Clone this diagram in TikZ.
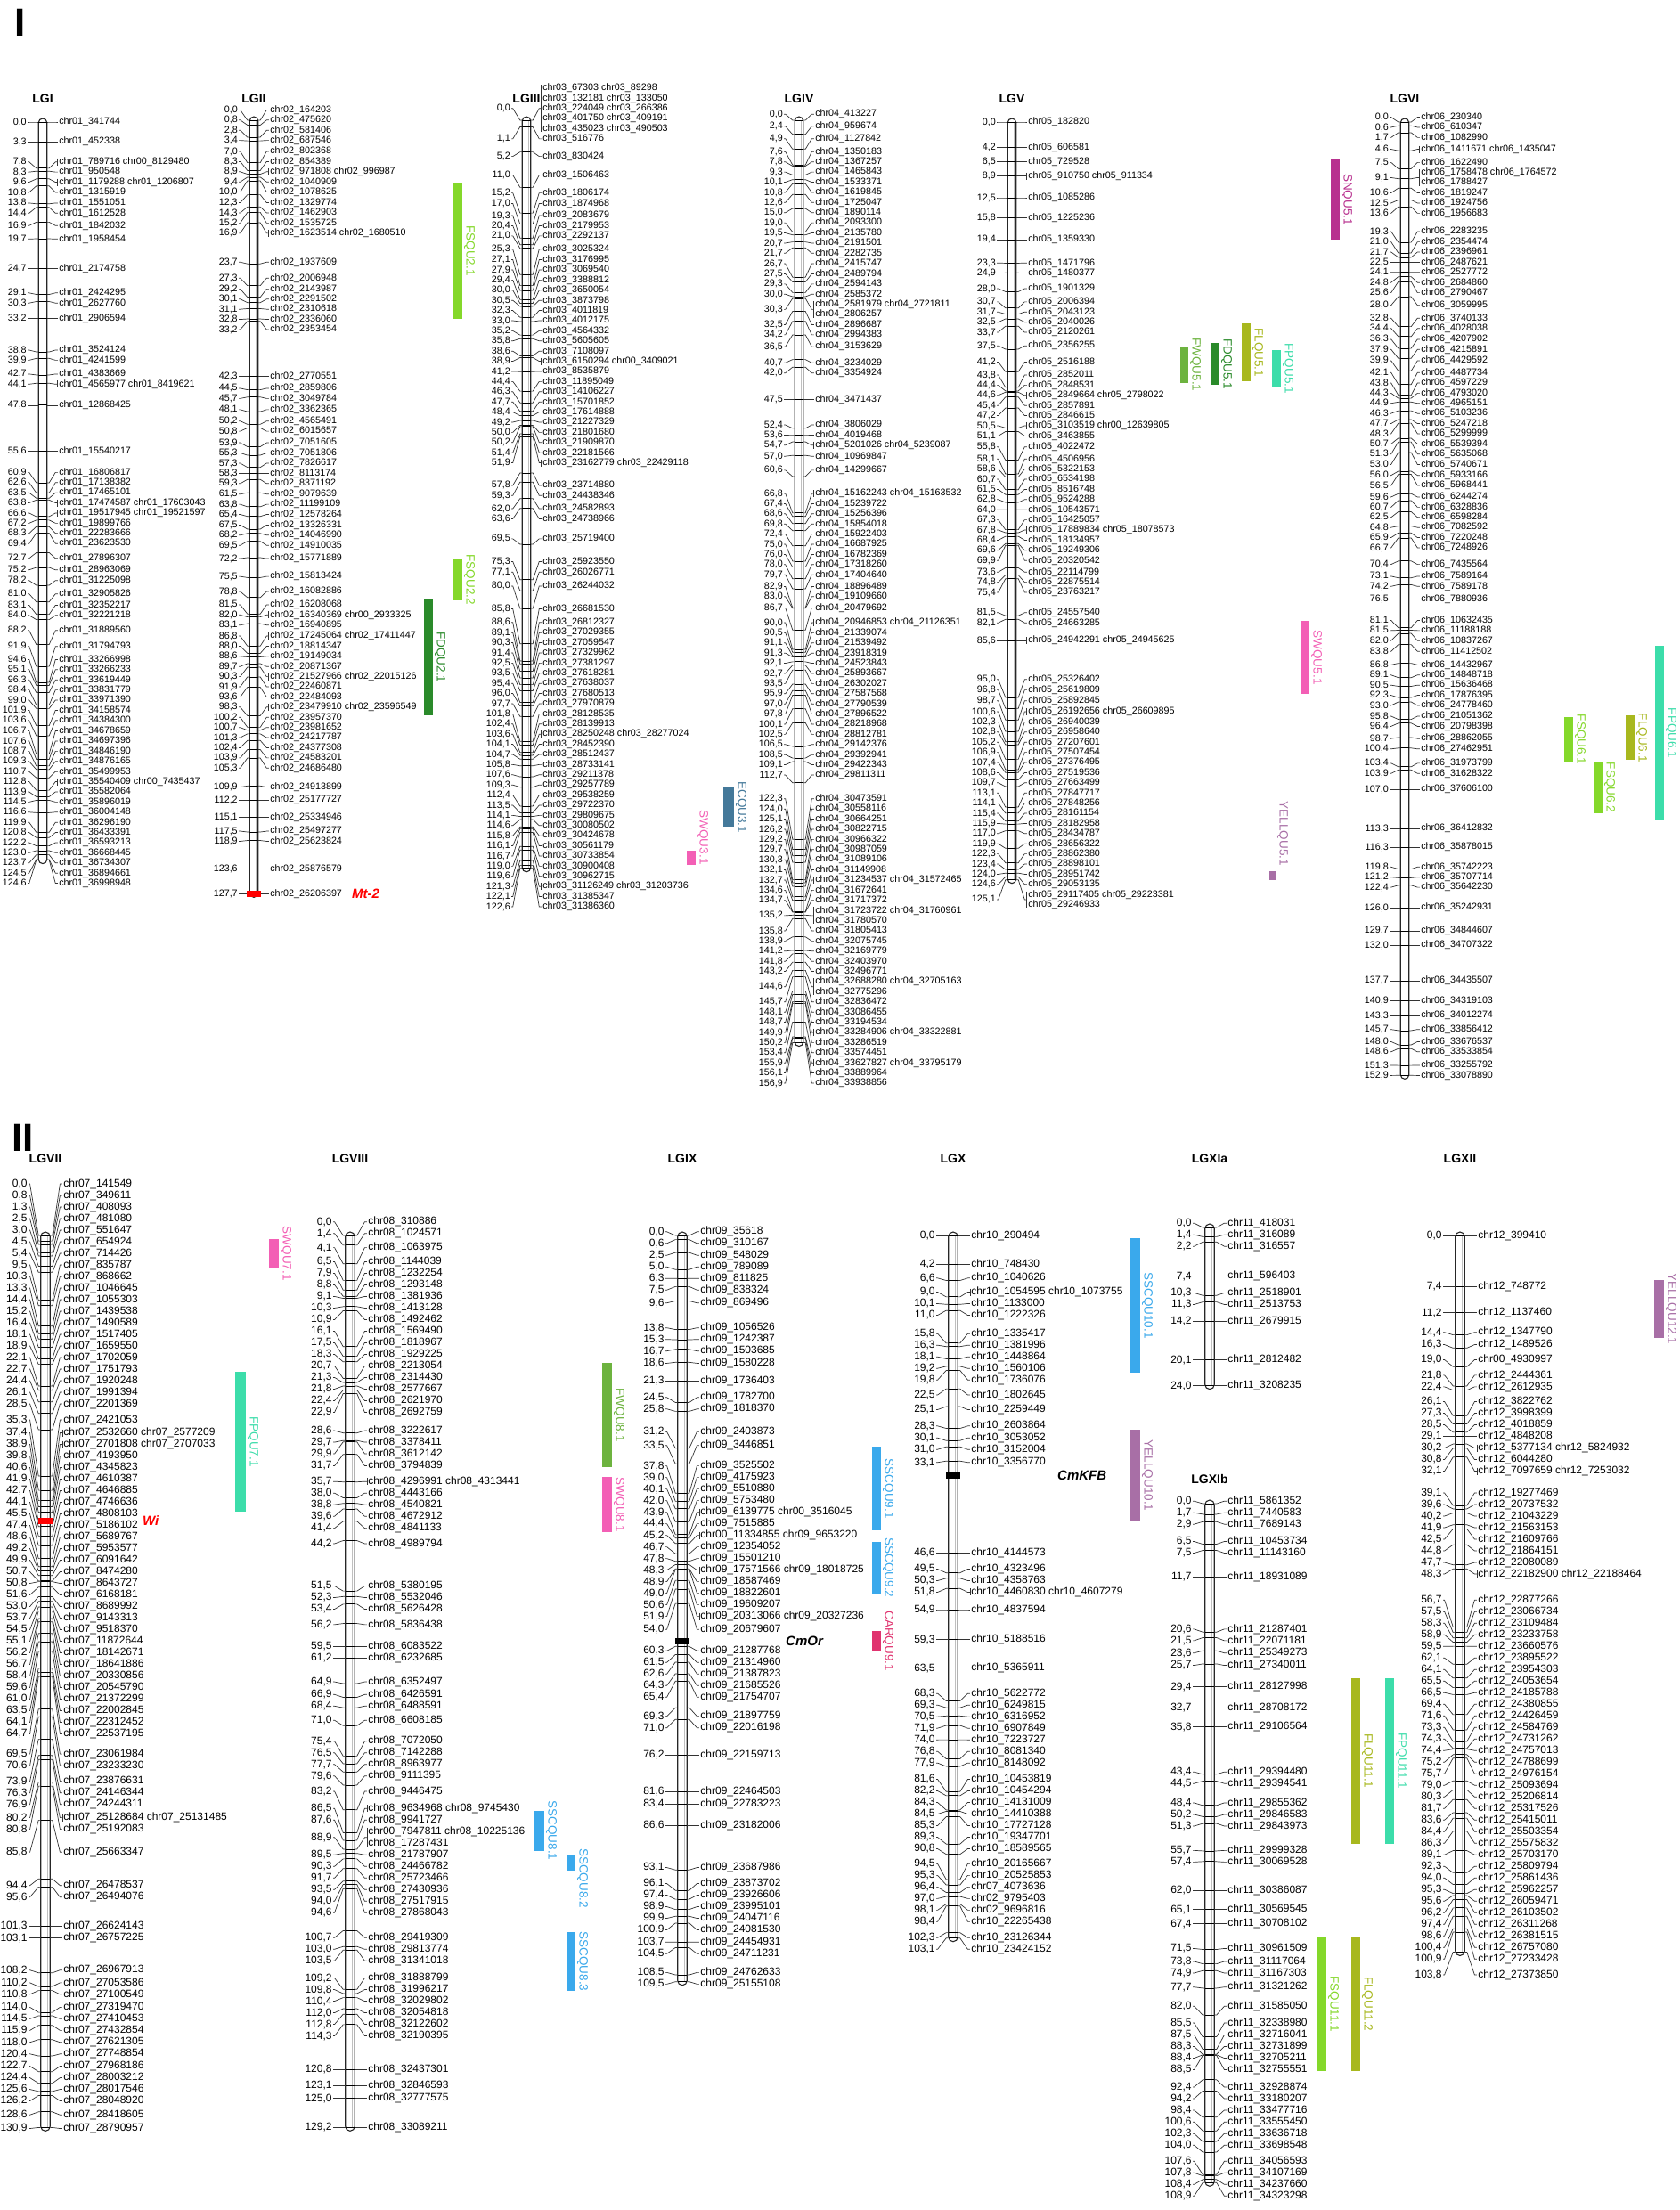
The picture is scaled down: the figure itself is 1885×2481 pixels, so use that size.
\documentclass[tikz,border=0pt]{standalone}
\usepackage{fontspec}
\setmainfont{Liberation Sans}
\definecolor{cFS}{HTML}{84D82A}
\definecolor{cFD}{HTML}{2A8A2A}
\definecolor{cFW}{HTML}{6DB33F}
\definecolor{cFL}{HTML}{A8B81E}
\definecolor{cFP}{HTML}{3CDDAA}
\definecolor{cSN}{HTML}{B8318F}
\definecolor{cSW}{HTML}{F35FB5}
\definecolor{cEC}{HTML}{44799A}
\definecolor{cYE}{HTML}{A86FA6}
\definecolor{cSS}{HTML}{3AA9EC}
\definecolor{cCA}{HTML}{E0336F}
\tikzset{
  lgbar/.style={draw=black!85, line width=1.1pt, fill=white},
  lgtick/.style={draw=black, line width=0.8pt},
  lgconn/.style={draw=black!80, line width=0.7pt},
  lgtxt/.style={inner sep=0pt, outer sep=0pt, text=black},
  qtllab/.style={rotate=-90, inner sep=0pt, font=\fontsize{13.5}{13.5}\selectfont},
  lgtitle/.style={font=\bfseries\fontsize{14}{14}\selectfont, inner sep=0pt},
  panellab/.style={font=\bfseries\fontsize{44}{44}\selectfont, inner sep=0pt, anchor=north west},
  genelab/.style={anchor=west, inner sep=0pt, font=\bfseries\itshape\fontsize{15}{15}\selectfont}
}
\def\splitnum#1.#2\relax{#1,#2}
\newcommand\drawLG[6]{%
  \def\lgxc{#1}\def\lgtop{#2}\def\lgsc{#3}\def\lggap{#4}\def\lgfs{#5}%
  \pgfmathsetmacro\lgoff{1.7*\lgfs}\pgfmathsetmacro\lghw{0.44*\lgfs}%
  \xdef\lgN{0}%
  \foreach \xcm/\xk/\xlbl in #6 {%
    \pgfmathtruncatemacro\ii{\lgN+1}%
    \xdef\lgN{\ii}%
    \expandafter\xdef\csname lgc@\ii\endcsname{\xcm}%
    \expandafter\xdef\csname lgk@\ii\endcsname{\xk}%
    \expandafter\global\expandafter\let\csname lgt@\ii\endcsname\xlbl
  }%
  \foreach \i in {1,...,\lgN} {%
    \edef\cc{\csname lgc@\i\endcsname}\edef\kk{\csname lgk@\i\endcsname}%
    \pgfmathsetmacro\dd{\lgtop+\cc*\lgsc}%
    \pgfmathsetmacro\hh{max(\kk,1)}%
    \ifnum\i=1 \xdef\FF{\dd}\else
      \pgfmathsetmacro\FFt{max(\dd,\Fprev+(\hprev+\hh)/2*\lggap)}\xdef\FF{\FFt}\fi
    \expandafter\xdef\csname lgF@\i\endcsname{\FF}%
    \xdef\Fprev{\FF}\xdef\hprev{\hh}%
  }%
  \foreach \j in {1,...,\lgN} {%
    \pgfmathtruncatemacro\i{\lgN+1-\j}%
    \edef\cc{\csname lgc@\i\endcsname}\edef\kk{\csname lgk@\i\endcsname}%
    \pgfmathsetmacro\dd{\lgtop+\cc*\lgsc}%
    \pgfmathsetmacro\hh{max(\kk,1)}%
    \ifnum\j=1 \xdef\BB{\dd}\else
      \pgfmathsetmacro\BBt{min(\dd,\Bprev-(\hprev+\hh)/2*\lggap)}\xdef\BB{\BBt}\fi
    \expandafter\xdef\csname lgB@\i\endcsname{\BB}%
    \xdef\Bprev{\BB}\xdef\hprev{\hh}%
  }%
  \edef\cc{\csname lgc@\lgN\endcsname}%
  \pgfmathsetmacro\lgbot{\lgtop+\cc*\lgsc}%
  \pgfmathsetmacro\bl{\lgxc-\lghw}\pgfmathsetmacro\br{\lgxc+\lghw}%
  \draw[lgbar, rounded corners=\lghw pt] (\bl,\lgtop-4) rectangle (\br,\lgbot+4);
  \draw[gray!50, line width=0.6pt] (\lgxc+0.5*\lghw,\lgtop) -- (\lgxc+0.5*\lghw,\lgbot);
  \foreach \i in {1,...,\lgN} {%
    \edef\cc{\csname lgc@\i\endcsname}\edef\kk{\csname lgk@\i\endcsname}%
    \pgfmathsetmacro\dd{\lgtop+\cc*\lgsc}%
    \pgfmathsetmacro\yy{(\csname lgF@\i\endcsname+\csname lgB@\i\endcsname)/2}%
    \draw[lgtick] (\bl,\dd) -- (\br,\dd);
    \draw[lgconn] (\br,\dd) -- (\br+2.5,\dd) -- (\lgxc+\lgoff-4,\yy) -- (\lgxc+\lgoff-1.5,\yy);
    \draw[lgconn] (\bl,\dd) -- (\bl-2.5,\dd) -- (\lgxc-\lgoff+3,\yy) -- (\lgxc-\lgoff+1.5,\yy);
    \node[lgtxt, anchor=east, font=\fontsize{\lgfs}{\lggap}\selectfont] at (\lgxc-\lgoff,\yy) {\expandafter\splitnum\cc\relax};
    \node[lgtxt, anchor=west, align=left, font=\fontsize{\lgfs}{\lggap}\selectfont] at (\lgxc+\lgoff,\yy) {\csname lgt@\i\endcsname};
    \ifnum\kk=1 \draw[lgconn] (\lgxc+\lgoff-1.5,\yy-4) -- (\lgxc+\lgoff-1.5,\yy+4);\fi
    \ifnum\kk>1 \pgfmathsetmacro\hb{\kk*\lggap/2-2}\draw[lgconn] (\lgxc+\lgoff-1.5,\yy-\hb) -- (\lgxc+\lgoff-1.5,\yy+\hb);\fi
  }%
}
\newcommand\qtl[9]{%
  \pgfmathsetmacro\qya{#1+#3*#2}\pgfmathsetmacro\qyb{#1+#4*#2}%
  \fill[#7] (#5,\qya) rectangle (#6,\qyb);
  \pgfmathsetmacro\qx{#6+8}%
  \if#9c\pgfmathsetmacro\qym{(\qya+\qyb)/2}\node[qtllab,text=#7] at (\qx,\qym) {#8};\fi
  \if#9t\node[qtllab,text=#7,anchor=west] at (\qx,\qya-8) {#8};\fi
  \if#9b\node[qtllab,text=#7,anchor=east] at (\qx,\qyb) {#8};\fi
  \if#9a\node[qtllab,text=#7,anchor=east] at (\qx,\qya-6) {#8};\fi
}
\newcommand\gmark[7]{%
  \pgfmathsetmacro\gy{#2+#4*#3}%
  \fill[#5] (#1-8,\gy-3.5) rectangle (#1+8,\gy+3.5);
  \node[genelab, text=#5] at (#7,\gy) {#6};
}
\begin{document}
\catcode`\_=12
\def\dataI{0.0/0/chr01_341744, 3.3/0/chr01_452338, 7.8/1/chr01_789716 chr00_8129480, 8.3/0/chr01_950548, 9.6/1/chr01_1179288 chr01_1206807, 10.8/0/chr01_1315919, 13.8/0/chr01_1551051, 14.4/0/chr01_1612528, 16.9/0/chr01_1842032, 19.7/0/chr01_1958454, 24.7/0/chr01_2174758, 29.1/0/chr01_2424295, 30.3/0/chr01_2627760, 33.2/0/chr01_2906594, 38.8/0/chr01_3524124, 39.9/0/chr01_4241599, 42.7/0/chr01_4383669, 44.1/1/chr01_4565977 chr01_8419621, 47.8/0/chr01_12868425, 55.6/0/chr01_15540217, 60.9/0/chr01_16806817, 62.6/0/chr01_17138382, 63.5/0/chr01_17465101, 63.8/1/chr01_17474587 chr01_17603043, 66.6/1/chr01_19517945 chr01_19521597, 67.2/0/chr01_19899766, 68.3/0/chr01_22283666, 69.4/0/chr01_23623530, 72.7/0/chr01_27896307, 75.2/0/chr01_28963069, 78.2/0/chr01_31225098, 81.0/0/chr01_32905826, 83.1/0/chr01_32352217, 84.0/0/chr01_32221218, 88.2/0/chr01_31889560, 91.9/0/chr01_31794793, 94.6/0/chr01_33266998, 95.1/0/chr01_33266233, 96.3/0/chr01_33619449, 98.4/0/chr01_33831779, 99.0/0/chr01_33971390, 101.9/0/chr01_34158574, 103.6/0/chr01_34384300, 106.7/0/chr01_34678659, 107.6/0/chr01_34697396, 108.7/0/chr01_34846190, 109.3/0/chr01_34876165, 110.7/0/chr01_35499953, 112.8/1/chr01_35540409 chr00_7435437, 113.9/0/chr01_35582064, 114.5/0/chr01_35896019, 116.6/0/chr01_36004148, 119.9/0/chr01_36296190, 120.8/0/chr01_36433391, 122.2/0/chr01_36593213, 123.0/0/chr01_36668445, 123.7/0/chr01_36734307, 124.5/0/chr01_36894661, 124.6/0/chr01_36998948}
\def\dataII{0.0/0/chr02_164203, 0.8/0/chr02_475620, 2.8/0/chr02_581406, 3.4/0/chr02_687546, 7.0/0/chr02_802368, 8.3/0/chr02_854389, 8.9/1/chr02_971808 chr02_996987, 9.4/0/chr02_1040909, 10.0/0/chr02_1078625, 12.3/0/chr02_1329774, 14.3/0/chr02_1462903, 15.2/0/chr02_1535725, 16.9/1/chr02_1623514 chr02_1680510, 23.7/0/chr02_1937609, 27.3/0/chr02_2006948, 29.2/0/chr02_2143987, 30.1/0/chr02_2291502, 31.1/0/chr02_2310618, 32.8/0/chr02_2336060, 33.2/0/chr02_2353454, 42.3/0/chr02_2770551, 44.5/0/chr02_2859806, 45.7/0/chr02_3049784, 48.1/0/chr02_3362365, 50.2/0/chr02_4565491, 50.8/0/chr02_6015657, 53.9/0/chr02_7051605, 55.3/0/chr02_7051806, 57.3/0/chr02_7826617, 58.3/0/chr02_8113174, 59.3/0/chr02_8371192, 61.5/0/chr02_9079639, 63.8/0/chr02_11199109, 65.4/0/chr02_12578264, 67.5/0/chr02_13326331, 68.2/0/chr02_14046990, 69.5/0/chr02_14910035, 72.2/0/chr02_15771889, 75.5/0/chr02_15813424, 78.8/0/chr02_16082886, 81.5/0/chr02_16208068, 82.0/1/chr02_16340369 chr00_2933325, 83.1/0/chr02_16940895, 86.8/1/chr02_17245064 chr02_17411447, 88.0/0/chr02_18814347, 88.6/0/chr02_19149034, 89.7/0/chr02_20871367, 90.3/1/chr02_21527966 chr02_22015126, 91.9/0/chr02_22460871, 93.6/0/chr02_22484093, 98.3/1/chr02_23479910 chr02_23596549, 100.2/0/chr02_23957370, 100.7/0/chr02_23981652, 101.3/0/chr02_24217787, 102.4/0/chr02_24377308, 103.9/0/chr02_24583201, 105.3/0/chr02_24686480, 109.9/0/chr02_24913899, 112.2/0/chr02_25177727, 115.1/0/chr02_25334946, 117.5/0/chr02_25497277, 118.9/0/chr02_25623824, 123.6/0/chr02_25876579, 127.7/0/chr02_26206397}
\def\dataIII{0.0/5/{chr03_67303 chr03_89298\\chr03_132181 chr03_133050\\chr03_224049 chr03_266386\\chr03_401750 chr03_409191\\chr03_435023 chr03_490503}, 1.1/0/chr03_516776, 5.2/0/chr03_830424, 11.0/0/chr03_1506463, 15.2/0/chr03_1806174, 17.0/0/chr03_1874968, 19.3/0/chr03_2083679, 20.4/0/chr03_2179953, 21.0/0/chr03_2292137, 25.3/0/chr03_3025324, 27.1/0/chr03_3176995, 27.9/0/chr03_3069540, 29.4/0/chr03_3388812, 30.0/0/chr03_3650054, 30.5/0/chr03_3873798, 32.3/0/chr03_4011819, 33.0/0/chr03_4012175, 35.2/0/chr03_4564332, 35.8/0/chr03_5605605, 38.6/0/chr03_7108097, 38.9/1/chr03_6150294 chr00_3409021, 41.2/0/chr03_8535879, 44.4/0/chr03_11895049, 46.3/0/chr03_14106227, 47.7/0/chr03_15701852, 48.4/0/chr03_17614888, 49.2/0/chr03_21227329, 50.0/0/chr03_21801680, 50.2/0/chr03_21909870, 51.4/0/chr03_22181566, 51.9/1/chr03_23162779 chr03_22429118, 57.8/0/chr03_23714880, 59.3/0/chr03_24438346, 62.0/0/chr03_24582893, 63.6/0/chr03_24738966, 69.5/0/chr03_25719400, 75.3/0/chr03_25923550, 77.1/0/chr03_26026771, 80.0/0/chr03_26244032, 85.8/0/chr03_26681530, 88.6/0/chr03_26812327, 89.1/0/chr03_27029355, 90.3/0/chr03_27059547, 91.4/0/chr03_27329962, 92.5/0/chr03_27381297, 93.5/0/chr03_27618281, 95.4/0/chr03_27638037, 96.0/0/chr03_27680513, 97.7/0/chr03_27970879, 101.8/0/chr03_28128535, 102.4/0/chr03_28139913, 103.6/1/chr03_28250248 chr03_28277024, 104.1/0/chr03_28452390, 104.7/0/chr03_28512437, 105.8/0/chr03_28733141, 107.6/0/chr03_29211378, 109.3/0/chr03_29257789, 112.4/0/chr03_29538259, 113.5/0/chr03_29722370, 114.1/0/chr03_29809675, 114.6/0/chr03_30080502, 115.8/0/chr03_30424678, 116.1/0/chr03_30561179, 116.7/0/chr03_30733854, 119.0/0/chr03_30900408, 119.6/0/chr03_30962715, 121.3/1/chr03_31126249 chr03_31203736, 122.1/0/chr03_31385347, 122.6/0/chr03_31386360}
\def\dataIV{0.0/0/chr04_413227, 2.4/0/chr04_959674, 4.9/0/chr04_1127842, 7.6/0/chr04_1350183, 7.8/0/chr04_1367257, 9.3/0/chr04_1465843, 10.1/0/chr04_1533371, 10.8/0/chr04_1619845, 12.6/0/chr04_1725047, 15.0/0/chr04_1890114, 19.0/0/chr04_2093300, 19.5/0/chr04_2135780, 20.7/0/chr04_2191501, 21.7/0/chr04_2282735, 26.7/0/chr04_2415747, 27.5/0/chr04_2489794, 29.3/0/chr04_2594143, 30.0/0/chr04_2585372, 30.3/2/{chr04_2581979 chr04_2721811\\chr04_2806257}, 32.5/0/chr04_2896687, 34.2/0/chr04_2994383, 36.5/0/chr04_3153629, 40.7/0/chr04_3234029, 42.0/0/chr04_3354924, 47.5/0/chr04_3471437, 52.4/0/chr04_3806029, 53.6/0/chr04_4019468, 54.7/1/chr04_5201026 chr04_5239087, 57.0/0/chr04_10969847, 60.6/0/chr04_14299667, 66.8/1/chr04_15162243 chr04_15163532, 67.4/0/chr04_15239722, 68.6/0/chr04_15256396, 69.8/0/chr04_15854018, 72.4/0/chr04_15922403, 75.0/0/chr04_16687925, 76.0/0/chr04_16782369, 78.0/0/chr04_17318260, 79.7/0/chr04_17404640, 82.9/0/chr04_18896489, 83.0/0/chr04_19109660, 86.7/0/chr04_20479692, 90.0/1/chr04_20946853 chr04_21126351, 90.5/0/chr04_21339074, 91.1/0/chr04_21539492, 91.3/0/chr04_23918319, 92.1/0/chr04_24523843, 92.7/0/chr04_25893667, 93.5/0/chr04_26302027, 95.9/0/chr04_27587568, 97.0/0/chr04_27790539, 97.8/0/chr04_27896522, 100.1/0/chr04_28218968, 102.5/0/chr04_28812781, 106.5/0/chr04_29142376, 108.5/0/chr04_29392941, 109.1/0/chr04_29422343, 112.7/0/chr04_29811311, 122.3/0/chr04_30473591, 124.0/0/chr04_30558116, 125.1/0/chr04_30664251, 126.2/0/chr04_30822715, 129.2/0/chr04_30966322, 129.7/0/chr04_30987059, 130.3/0/chr04_31089106, 132.1/0/chr04_31149908, 132.7/1/chr04_31234537 chr04_31572465, 134.6/0/chr04_31672641, 134.7/0/chr04_31717372, 135.2/2/{chr04_31723722 chr04_31760961\\chr04_31780570}, 135.8/0/chr04_31805413, 138.9/0/chr04_32075745, 141.2/0/chr04_32169779, 141.8/0/chr04_32403970, 143.2/0/chr04_32496771, 144.6/2/{chr04_32688280 chr04_32705163\\chr04_32775296}, 145.7/0/chr04_32836472, 148.1/0/chr04_33086455, 148.7/0/chr04_33194534, 149.9/1/chr04_33284906 chr04_33322881, 150.2/0/chr04_33286519, 153.4/0/chr04_33574451, 155.9/1/chr04_33627827 chr04_33795179, 156.1/0/chr04_33889964, 156.9/0/chr04_33938856}
\def\dataV{0.0/0/chr05_182820, 4.2/0/chr05_606581, 6.5/0/chr05_729528, 8.9/1/chr05_910750 chr05_911334, 12.5/0/chr05_1085286, 15.8/0/chr05_1225236, 19.4/0/chr05_1359330, 23.3/0/chr05_1471796, 24.9/0/chr05_1480377, 28.0/0/chr05_1901329, 30.7/0/chr05_2006394, 31.7/0/chr05_2043123, 32.5/0/chr05_2040026, 33.7/0/chr05_2120261, 37.5/0/chr05_2356255, 41.2/0/chr05_2516188, 43.8/0/chr05_2852011, 44.4/0/chr05_2848531, 44.6/1/chr05_2849664 chr05_2798022, 45.4/0/chr05_2857891, 47.2/0/chr05_2846615, 50.5/1/chr05_3103519 chr00_12639805, 51.1/0/chr05_3463855, 55.8/0/chr05_4022472, 58.1/0/chr05_4506956, 58.6/0/chr05_5322153, 60.7/0/chr05_6534198, 61.5/0/chr05_8516748, 62.8/0/chr05_9524288, 64.0/0/chr05_10543571, 67.3/0/chr05_16425057, 67.8/1/chr05_17889834 chr05_18078573, 68.4/0/chr05_18134957, 69.6/0/chr05_19249306, 69.9/0/chr05_20320542, 73.6/0/chr05_22114799, 74.8/0/chr05_22875514, 75.4/0/chr05_23763217, 81.5/0/chr05_24557540, 82.1/0/chr05_24663285, 85.6/1/chr05_24942291 chr05_24945625, 95.0/0/chr05_25326402, 96.8/0/chr05_25619809, 98.7/0/chr05_25892845, 100.6/1/chr05_26192656 chr05_26609895, 102.3/0/chr05_26940039, 102.8/0/chr05_26958640, 105.2/0/chr05_27207601, 106.9/0/chr05_27507454, 107.4/0/chr05_27376495, 108.6/0/chr05_27519536, 109.7/0/chr05_27663499, 113.1/0/chr05_27847717, 114.1/0/chr05_27848256, 115.4/0/chr05_28161154, 115.9/0/chr05_28182958, 117.0/0/chr05_28434787, 119.9/0/chr05_28656322, 122.3/0/chr05_28862380, 123.4/0/chr05_28898101, 124.0/0/chr05_28951742, 124.6/0/chr05_29053135, 125.1/2/{chr05_29117405 chr05_29223381\\chr05_29246933}}
\def\dataVI{0.0/0/chr06_230340, 0.6/0/chr06_610347, 1.7/0/chr06_1082990, 4.6/1/chr06_1411671 chr06_1435047, 7.5/0/chr06_1622490, 9.1/2/{chr06_1758478 chr06_1764572\\chr06_1788427}, 10.6/0/chr06_1819247, 12.5/0/chr06_1924756, 13.6/0/chr06_1956683, 19.3/0/chr06_2283235, 21.0/0/chr06_2354474, 21.7/0/chr06_2396961, 22.5/0/chr06_2487621, 24.1/0/chr06_2527772, 24.8/0/chr06_2684860, 25.6/0/chr06_2790467, 28.0/0/chr06_3059995, 32.8/0/chr06_3740133, 34.4/0/chr06_4028038, 36.3/0/chr06_4207902, 37.9/0/chr06_4215891, 39.9/0/chr06_4429592, 42.1/0/chr06_4487734, 43.8/0/chr06_4597229, 44.3/0/chr06_4793020, 44.9/0/chr06_4965151, 46.3/0/chr06_5103236, 47.7/0/chr06_5247218, 48.3/0/chr06_5299999, 50.7/0/chr06_5539394, 51.3/0/chr06_5635068, 53.0/0/chr06_5740671, 56.0/0/chr06_5933166, 56.5/0/chr06_5968441, 59.6/0/chr06_6244274, 60.7/0/chr06_6328836, 62.5/0/chr06_6598284, 64.8/0/chr06_7082592, 65.9/0/chr06_7220248, 66.7/0/chr06_7248926, 70.4/0/chr06_7435564, 73.1/0/chr06_7589164, 74.2/0/chr06_7589178, 76.5/0/chr06_7880936, 81.1/0/chr06_10632435, 81.5/0/chr06_11188188, 82.0/0/chr06_10837267, 83.8/0/chr06_11412502, 86.8/0/chr06_14432967, 89.1/0/chr06_14848718, 90.5/0/chr06_15636468, 92.3/0/chr06_17876395, 93.0/0/chr06_24778460, 95.8/0/chr06_21051362, 96.4/0/chr06_20798398, 98.7/0/chr06_28862055, 100.4/0/chr06_27462951, 103.4/0/chr06_31973799, 103.9/0/chr06_31628322, 107.0/0/chr06_37606100, 113.3/0/chr06_36412832, 116.3/0/chr06_35878015, 119.8/0/chr06_35742223, 121.2/0/chr06_35707714, 122.4/0/chr06_35642230, 126.0/0/chr06_35242931, 129.7/0/chr06_34844607, 132.0/0/chr06_34707322, 137.7/0/chr06_34435507, 140.9/0/chr06_34319103, 143.3/0/chr06_34012274, 145.7/0/chr06_33856412, 148.0/0/chr06_33676537, 148.6/0/chr06_33533854, 151.3/0/chr06_33255792, 152.9/0/chr06_33078890}
\def\dataVII{0.0/0/chr07_141549, 0.8/0/chr07_349611, 1.3/0/chr07_408093, 2.5/0/chr07_481080, 3.0/0/chr07_551647, 4.5/0/chr07_654924, 5.4/0/chr07_714426, 9.5/0/chr07_835787, 10.3/0/chr07_868662, 13.3/0/chr07_1046645, 14.4/0/chr07_1055303, 15.2/0/chr07_1439538, 16.4/0/chr07_1490589, 18.1/0/chr07_1517405, 18.9/0/chr07_1659550, 22.1/0/chr07_1702059, 22.7/0/chr07_1751793, 24.4/0/chr07_1920248, 26.1/0/chr07_1991394, 28.5/0/chr07_2201369, 35.3/0/chr07_2421053, 37.4/1/chr07_2532660 chr07_2577209, 38.9/1/chr07_2701808 chr07_2707033, 39.8/0/chr07_4193950, 40.6/0/chr07_4345823, 41.9/0/chr07_4610387, 42.7/0/chr07_4646885, 44.1/0/chr07_4746636, 45.5/0/chr07_4808103, 47.4/0/chr07_5186102, 48.6/0/chr07_5689767, 49.2/0/chr07_5953577, 49.9/0/chr07_6091642, 50.7/0/chr07_8474280, 50.8/0/chr07_8643727, 51.6/0/chr07_6168181, 53.0/0/chr07_8689992, 53.7/0/chr07_9143313, 54.5/0/chr07_9518370, 55.1/0/chr07_11872644, 56.2/0/chr07_18142671, 56.7/0/chr07_18641886, 58.4/0/chr07_20330856, 59.6/0/chr07_20545790, 61.0/0/chr07_21372299, 63.5/0/chr07_22002845, 64.1/0/chr07_22312452, 64.7/0/chr07_22537195, 69.5/0/chr07_23061984, 70.6/0/chr07_23233230, 73.9/0/chr07_23876631, 76.3/0/chr07_24146344, 76.9/0/chr07_24244311, 80.2/1/chr07_25128684 chr07_25131485, 80.8/0/chr07_25192083, 85.8/0/chr07_25663347, 94.4/0/chr07_26478537, 95.6/0/chr07_26494076, 101.3/0/chr07_26624143, 103.1/0/chr07_26757225, 108.2/0/chr07_26967913, 110.2/0/chr07_27053586, 110.8/0/chr07_27100549, 114.0/0/chr07_27319470, 114.5/0/chr07_27410453, 115.9/0/chr07_27432854, 118.0/0/chr07_27621305, 120.4/0/chr07_27748854, 122.7/0/chr07_27968186, 124.4/0/chr07_28003212, 125.6/0/chr07_28017546, 126.2/0/chr07_28048920, 128.6/0/chr07_28418605, 130.9/0/chr07_28790957}
\def\dataVIII{0.0/0/chr08_310886, 1.4/0/chr08_1024571, 4.1/0/chr08_1063975, 6.5/0/chr08_1144039, 7.9/0/chr08_1232254, 8.8/0/chr08_1293148, 9.1/0/chr08_1381936, 10.3/0/chr08_1413128, 10.9/0/chr08_1492462, 16.1/0/chr08_1569490, 17.5/0/chr08_1818967, 18.3/0/chr08_1929225, 20.7/0/chr08_2213054, 21.3/0/chr08_2314430, 21.8/0/chr08_2577667, 22.4/0/chr08_2621970, 22.9/0/chr08_2692759, 28.6/0/chr08_3222617, 29.7/0/chr08_3378411, 29.9/0/chr08_3612142, 31.7/0/chr08_3794839, 35.7/1/chr08_4296991 chr08_4313441, 38.0/0/chr08_4443166, 38.8/0/chr08_4540821, 39.6/0/chr08_4672912, 41.4/0/chr08_4841133, 44.2/0/chr08_4989794, 51.5/0/chr08_5380195, 52.3/0/chr08_5532046, 53.4/0/chr08_5626428, 56.2/0/chr08_5836438, 59.5/0/chr08_6083522, 61.2/0/chr08_6232685, 64.9/0/chr08_6352497, 66.9/0/chr08_6426591, 68.4/0/chr08_6488591, 71.0/0/chr08_6608185, 75.4/0/chr08_7072050, 76.5/0/chr08_7142288, 77.7/0/chr08_8963977, 79.6/0/chr08_9111395, 83.2/0/chr08_9446475, 86.5/1/chr08_9634968 chr08_9745430, 87.6/0/chr08_9941727, 88.9/2/{chr00_7947811 chr08_10225136\\chr08_17287431}, 89.5/0/chr08_21787907, 90.3/0/chr08_24466782, 91.7/0/chr08_25723466, 93.5/0/chr08_27430936, 94.0/0/chr08_27517915, 94.6/0/chr08_27868043, 100.7/0/chr08_29419309, 103.0/0/chr08_29813774, 103.5/0/chr08_31341018, 109.2/0/chr08_31888799, 109.8/0/chr08_31996217, 110.4/0/chr08_32029802, 112.0/0/chr08_32054818, 112.8/0/chr08_32122602, 114.3/0/chr08_32190395, 120.8/0/chr08_32437301, 123.1/0/chr08_32846593, 125.0/0/chr08_32777575, 129.2/0/chr08_33089211}
\def\dataIX{0.0/0/chr09_35618, 0.6/0/chr09_310167, 2.5/0/chr09_548029, 5.0/0/chr09_789089, 6.3/0/chr09_811825, 7.5/0/chr09_838324, 9.6/0/chr09_869496, 13.8/0/chr09_1056526, 15.3/0/chr09_1242387, 16.7/0/chr09_1503685, 18.6/0/chr09_1580228, 21.3/0/chr09_1736403, 24.5/0/chr09_1782700, 25.8/0/chr09_1818370, 31.2/0/chr09_2403873, 33.5/0/chr09_3446851, 37.8/0/chr09_3525502, 39.0/0/chr09_4175923, 40.1/0/chr09_5510880, 42.0/0/chr09_5753480, 43.9/1/chr09_6139775 chr00_3516045, 44.4/0/chr09_7515885, 45.2/1/chr00_11334855 chr09_9653220, 46.7/0/chr09_12354052, 47.8/0/chr09_15501210, 48.3/1/chr09_17571566 chr09_18018725, 48.9/0/chr09_18587469, 49.0/0/chr09_18822601, 50.6/0/chr09_19609207, 51.9/1/chr09_20313066 chr09_20327236, 54.0/0/chr09_20679607, 60.3/0/chr09_21287768, 61.5/0/chr09_21314960, 62.6/0/chr09_21387823, 64.3/0/chr09_21685526, 65.4/0/chr09_21754707, 69.3/0/chr09_21897759, 71.0/0/chr09_22016198, 76.2/0/chr09_22159713, 81.6/0/chr09_22464503, 83.4/0/chr09_22783223, 86.6/0/chr09_23182006, 93.1/0/chr09_23687986, 96.1/0/chr09_23873702, 97.4/0/chr09_23926606, 98.9/0/chr09_23995101, 99.9/0/chr09_24047116, 100.9/0/chr09_24081530, 103.7/0/chr09_24454931, 104.5/0/chr09_24711231, 108.5/0/chr09_24762633, 109.5/0/chr09_25155108}
\def\dataX{0.0/0/chr10_290494, 4.2/0/chr10_748430, 6.6/0/chr10_1040626, 9.0/1/chr10_1054595 chr10_1073755, 10.1/0/chr10_1133000, 11.0/0/chr10_1222326, 15.8/0/chr10_1335417, 16.3/0/chr10_1381996, 18.1/0/chr10_1448864, 19.2/0/chr10_1560106, 19.8/0/chr10_1736076, 22.5/0/chr10_1802645, 25.1/0/chr10_2259449, 28.3/0/chr10_2603864, 30.1/0/chr10_3053052, 31.0/0/chr10_3152004, 33.1/0/chr10_3356770, 46.6/0/chr10_4144573, 49.5/0/chr10_4323496, 50.3/0/chr10_4358763, 51.8/1/chr10_4460830 chr10_4607279, 54.9/0/chr10_4837594, 59.3/0/chr10_5188516, 63.5/0/chr10_5365911, 68.3/0/chr10_5622772, 69.3/0/chr10_6249815, 70.5/0/chr10_6316952, 71.9/0/chr10_6907849, 74.0/0/chr10_7223727, 76.8/0/chr10_8081340, 77.9/0/chr10_8148092, 81.6/0/chr10_10453819, 82.2/0/chr10_10454294, 84.3/0/chr10_14131009, 84.5/0/chr10_14410388, 85.3/0/chr10_17727128, 89.3/0/chr10_19347701, 90.8/0/chr10_18589565, 94.5/0/chr10_20165667, 95.3/0/chr10_20525853, 96.4/0/chr07_4073636, 97.0/0/chr02_9795403, 98.1/0/chr02_9696816, 98.4/0/chr10_22265438, 102.3/0/chr10_23126344, 103.1/0/chr10_23424152}
\def\dataXIa{0.0/0/chr11_418031, 1.4/0/chr11_316089, 2.2/0/chr11_316557, 7.4/0/chr11_596403, 10.3/0/chr11_2518901, 11.3/0/chr11_2513753, 14.2/0/chr11_2679915, 20.1/0/chr11_2812482, 24.0/0/chr11_3208235}
\def\dataXIb{0.0/0/chr11_5861352, 1.7/0/chr11_7440583, 2.9/0/chr11_7689143, 6.5/0/chr11_10453734, 7.5/0/chr11_11143160, 11.7/0/chr11_18931089, 20.6/0/chr11_21287401, 21.5/0/chr11_22071181, 23.6/0/chr11_25349273, 25.7/0/chr11_27340011, 29.4/0/chr11_28127998, 32.7/0/chr11_28708172, 35.8/0/chr11_29106564, 43.4/0/chr11_29394480, 44.5/0/chr11_29394541, 48.4/0/chr11_29855362, 50.2/0/chr11_29846583, 51.3/0/chr11_29843973, 55.7/0/chr11_29999328, 57.4/0/chr11_30069528, 62.0/0/chr11_30386087, 65.1/0/chr11_30569545, 67.4/0/chr11_30708102, 71.5/0/chr11_30961509, 73.8/0/chr11_31117064, 74.9/0/chr11_31167303, 77.7/0/chr11_31321262, 82.0/0/chr11_31585050, 85.5/0/chr11_32338980, 87.5/0/chr11_32716041, 88.3/0/chr11_32731899, 88.4/0/chr11_32705211, 88.5/0/chr11_32755551, 92.4/0/chr11_32928874, 94.2/0/chr11_33180207, 98.4/0/chr11_33477716, 100.6/0/chr11_33555450, 102.3/0/chr11_33636718, 104.0/0/chr11_33698548, 107.6/0/chr11_34056593, 107.8/0/chr11_34107169, 108.4/0/chr11_34237660, 108.9/0/chr11_34323298}
\def\dataXII{0.0/0/chr12_399410, 7.4/0/chr12_748772, 11.2/0/chr12_1137460, 14.4/0/chr12_1347790, 16.3/0/chr12_1489526, 19.0/0/chr00_4930997, 21.8/0/chr12_2444361, 22.4/0/chr12_2612935, 26.1/0/chr12_3822762, 27.3/0/chr12_3998399, 28.5/0/chr12_4018859, 29.1/0/chr12_4848208, 30.2/1/chr12_5377134 chr12_5824932, 30.8/0/chr12_6044280, 32.1/1/chr12_7097659 chr12_7253032, 39.1/0/chr12_19277469, 39.6/0/chr12_20737532, 40.2/0/chr12_21043229, 41.9/0/chr12_21563153, 42.5/0/chr12_21609766, 44.8/0/chr12_21864151, 47.7/0/chr12_22080089, 48.3/1/chr12_22182900 chr12_22188464, 56.7/0/chr12_22877266, 57.5/0/chr12_23066734, 58.3/0/chr12_23109484, 58.9/0/chr12_23233758, 59.5/0/chr12_23660576, 62.1/0/chr12_23895522, 64.1/0/chr12_23954303, 65.5/0/chr12_24053654, 66.5/0/chr12_24185788, 69.4/0/chr12_24380855, 71.6/0/chr12_24426459, 73.3/0/chr12_24584769, 74.3/0/chr12_24731262, 74.4/0/chr12_24757013, 75.2/0/chr12_24788699, 75.7/0/chr12_24976154, 79.0/0/chr12_25093694, 80.3/0/chr12_25206814, 81.7/0/chr12_25317526, 83.6/0/chr12_25415011, 84.4/0/chr12_25503354, 86.3/0/chr12_25575832, 89.1/0/chr12_25703170, 92.3/0/chr12_25809794, 94.0/0/chr12_25861436, 95.3/0/chr12_25962257, 95.6/0/chr12_26059471, 96.2/0/chr12_26103502, 97.4/0/chr12_26311268, 98.6/0/chr12_26381515, 100.4/0/chr12_26757080, 100.9/0/chr12_27233428, 103.8/0/chr12_27373850}
\begin{tikzpicture}[x=1pt,y=-1pt]
\fill[white] (0,0) rectangle (1885,2481);
\useasboundingbox (0,0) rectangle (1885,2481);
% panel labels
\node[panellab] at (16,10) {I};
\node[panellab] at (13,1262) {II};
% titles panel I
\node[lgtitle] at (48,111) {LGI};
\node[lgtitle] at (285,111) {LGII};
\node[lgtitle] at (591,111) {LGIII};
\node[lgtitle] at (897,111) {LGIV};
\node[lgtitle] at (1136,111) {LGV};
\node[lgtitle] at (1577,111) {LGVI};
% titles panel II
\node[lgtitle] at (51,1301) {LGVII};
\node[lgtitle] at (393,1301) {LGVIII};
\node[lgtitle] at (766,1301) {LGIX};
\node[lgtitle] at (1070,1301) {LGX};
\node[lgtitle] at (1358,1301) {LGXIa};
\node[lgtitle] at (1358,1660) {LGXIb};
\node[lgtitle] at (1639,1301) {LGXII};
% linkage groups
\drawLG{48}{137}{6.65}{11.4}{10.75}{\dataI}
\drawLG{285}{135}{6.8}{11.4}{10.75}{\dataII}
\drawLG{591}{135}{6.85}{11.4}{10.75}{\dataIII}
\drawLG{897}{135}{6.6}{11.4}{10.75}{\dataIV}
\drawLG{1136}{137}{6.8}{11.4}{10.75}{\dataV}
\drawLG{1577}{137}{7.0}{11.4}{10.75}{\dataVI}
\drawLG{51}{1387}{7.65}{13.0}{12}{\dataVII}
\drawLG{393}{1387}{7.75}{13.0}{12}{\dataVIII}
\drawLG{766}{1387}{7.65}{13.0}{12}{\dataIX}
\drawLG{1070}{1387}{7.65}{13.0}{12}{\dataX}
\drawLG{1358}{1378}{7.4}{13.0}{12}{\dataXIa}
\drawLG{1358}{1688}{7.0}{13.0}{12}{\dataXIb}
\drawLG{1639}{1387}{7.75}{13.0}{12}{\dataXII}
% gene marks
\gmark{285}{135}{6.8}{127.7}{red}{Mt-2}{395}
\gmark{51}{1387}{7.65}{41.9}{red}{Wi}{160}
\gmark{766}{1387}{7.65}{59.5}{black}{CmOr}{882}
\gmark{1070}{1387}{7.65}{35.2}{black}{CmKFB}{1187}
% QTLs panel I
\qtl{135}{6.8}{10.3}{32.8}{509}{519}{cFS}{FSQU2.1}{c}
\qtl{135}{6.8}{72.4}{79.3}{509}{519}{cFS}{FSQU2.2}{c}
\qtl{135}{6.8}{79.0}{98.3}{476}{486}{cFD}{FDQU2.1}{c}
\qtl{135}{6.85}{109.4}{115.8}{812}{824}{cEC}{ECQU3.1}{c}
\qtl{135}{6.85}{119.7}{122.0}{771}{781}{cSW}{SWQU3.1}{b}
\qtl{137}{6.8}{37.0}{43.1}{1325}{1334}{cFW}{FWQU5.1}{c}
\qtl{137}{6.8}{36.5}{43.4}{1359}{1369}{cFD}{FDQU5.1}{c}
\qtl{137}{6.8}{33.3}{42.8}{1394}{1404}{cFL}{FLQU5.1}{c}
\qtl{137}{6.8}{37.6}{43.8}{1428}{1438}{cFP}{FPQU5.1}{c}
\qtl{137}{6.8}{6.2}{19.4}{1494}{1504}{cSN}{SNQU5.1}{c}
\qtl{137}{6.8}{82.4}{94.4}{1460}{1470}{cSW}{SWQU5.1}{c}
\qtl{137}{6.8}{123.7}{125.1}{1425}{1432}{cYE}{YELLQU5.1}{a}
\qtl{137}{7.0}{95.4}{102.6}{1756}{1766}{cFS}{FSQU6.1}{c}
\qtl{137}{7.0}{102.6}{110.8}{1789}{1799}{cFS}{FSQU6.2}{c}
\qtl{137}{7.0}{95.2}{102.3}{1825}{1835}{cFL}{FLQU6.1}{c}
\qtl{137}{7.0}{84.0}{112.0}{1858}{1868}{cFP}{FPQU6.1}{c}
% QTLs panel II
\qtl{1387}{7.65}{0.5}{4.8}{302}{313}{cSW}{SWQU7.1}{c}
\qtl{1387}{7.65}{20.0}{40.5}{264}{276}{cFP}{FPQU7.1}{c}
\qtl{1387}{7.75}{18.5}{33.5}{676}{687}{cFW}{FWQU8.1}{c}
\qtl{1387}{7.75}{35.0}{43.0}{676}{687}{cSW}{SWQU8.1}{c}
\qtl{1387}{7.75}{83.3}{89.1}{600}{611}{cSS}{SSCQU8.1}{c}
\qtl{1387}{7.75}{89.8}{92.0}{636}{646}{cSS}{SSCQU8.2}{t}
\qtl{1387}{7.75}{100.9}{109.4}{636}{646}{cSS}{SSCQU8.3}{c}
\qtl{1387}{7.65}{31.0}{43.3}{979}{989}{cSS}{SSCQU9.1}{c}
\qtl{1387}{7.65}{45.0}{52.5}{979}{989}{cSS}{SSCQU9.2}{c}
\qtl{1387}{7.65}{58.0}{61.0}{979}{989}{cCA}{CARQU9.1}{c}
\qtl{1387}{7.65}{0.4}{20.1}{1269}{1280}{cSS}{SSCQU10.1}{c}
\qtl{1387}{7.65}{28.5}{42.0}{1269}{1280}{cYE}{YELLQU10.1}{c}
\qtl{1688}{7.0}{28.0}{54.5}{1517}{1527}{cFL}{FLQU11.1}{c}
\qtl{1688}{7.0}{28.0}{54.5}{1555}{1565}{cFP}{FPQU11.1}{c}
\qtl{1688}{7.0}{69.5}{91.0}{1479}{1489}{cFS}{FSQU11.1}{c}
\qtl{1688}{7.0}{69.5}{91.0}{1517}{1527}{cFL}{FLQU11.2}{c}
\qtl{1387}{7.75}{6.5}{14.8}{1857}{1868}{cYE}{YELLQU12.1}{c}
\end{tikzpicture}
\end{document}
